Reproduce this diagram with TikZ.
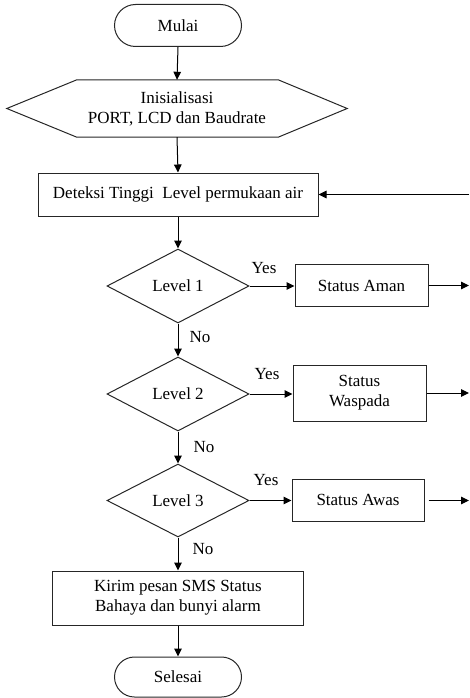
\documentclass[tikz,border=0pt]{standalone}
\usepackage{fontspec}
\setmainfont{Liberation Serif}
\usetikzlibrary{shapes.geometric,shapes.misc,arrows.meta}
\begin{document}
\begin{tikzpicture}[x=1pt,y=-1pt,
  font=\fontsize{17}{20}\selectfont,
  shapeline/.style={draw=black!85, line width=1pt},
  term/.style={shapeline, rounded rectangle, minimum width=127pt, minimum height=42pt, inner sep=0pt},
  procbox/.style={shapeline, rectangle, inner sep=0pt, align=center},
  decision/.style={shapeline, diamond, aspect=1.93, minimum width=142pt, minimum height=74pt, inner sep=0pt},
  arr/.style={-{Triangle[length=8pt,width=7.5pt]}, line width=1pt},
  lbl/.style={inner sep=0pt}]
\useasboundingbox (0,0) rectangle (469,698);

\node[term] (start) at (178,25.5) {Mulai};
\node[minimum width=340pt, minimum height=57pt, inner sep=0pt, align=center] (init) at (177,108.5) {Inisialisasi\\PORT, LCD\ dan Baudrate};
\draw[shapeline] (init.west) -- ([xshift=70pt]init.north west) -- ([xshift=-69pt]init.north east) -- (init.east) -- ([xshift=-69pt]init.south east) -- ([xshift=70pt]init.south west) -- cycle;
\node[procbox, minimum width=280pt, minimum height=43pt] (detect) at (178,194.5) {Deteksi Tinggi\ \ Level permukaan air};
\node[decision] (l1) at (178,286) {Level 1};
\node[procbox, minimum width=133pt, minimum height=42pt] (aman) at (361.5,285.5) {Status Aman};
\node[decision] (l2) at (178,394) {Level 2};
\node[procbox, minimum width=133pt, minimum height=56pt] (waspada) at (359.5,393) {Status\\Waspada};
\node[decision, minimum height=73pt] (l3) at (178,500.5) {Level 3};
\node[procbox, minimum width=132pt, minimum height=42pt] (awas) at (358,500) {Status Awas};
\node[procbox, minimum width=251pt, minimum height=54pt] (kirim) at (178,598) {Kirim pesan SMS Status\\Bahaya dan bunyi alarm};
\node[term, minimum height=40pt] (finish) at (178,677) {Selesai};

\coordinate (r0) at (469,194.5);
\coordinate (r1) at (469,285.5);
\coordinate (r2) at (469,393);
\coordinate (r3) at (469,500.5);

\node[lbl] (y1) at (264,268) {Yes};
\node[lbl] (y2) at (267,374) {Yes};
\node[lbl] (y3) at (266,480) {Yes};
\node[lbl] (n1) at (200,337) {No};
\node[lbl] (n2) at (204,447) {No};
\node[lbl] (n3) at (203,549) {No};

\draw[arr] (start.south) -- (init.north);
\draw[arr] (init.south) -- (detect.north);
\draw[arr] (r0) -- (detect.east);
\draw[arr] (detect.south) -- (l1.north);
\draw[arr] (l1.east) -- (aman.west |- l1.east);
\draw[arr] (aman.east) -- (r1);
\draw[arr] (l1.south) -- (l2.north);
\draw[arr] (l2.east) -- (waspada.west |- l2.east);
\draw[arr] (waspada.east) -- (r2);
\draw[arr] (l2.south) -- (l3.north);
\draw[arr] (l3.east) -- (awas.west |- l3.east);
\draw[arr] ([xshift=4pt]awas.east |- r3) -- (r3);
\draw[arr] (l3.south) -- (kirim.north);
\draw[arr] (kirim.south) -- (finish.north);
\end{tikzpicture}
\end{document}
